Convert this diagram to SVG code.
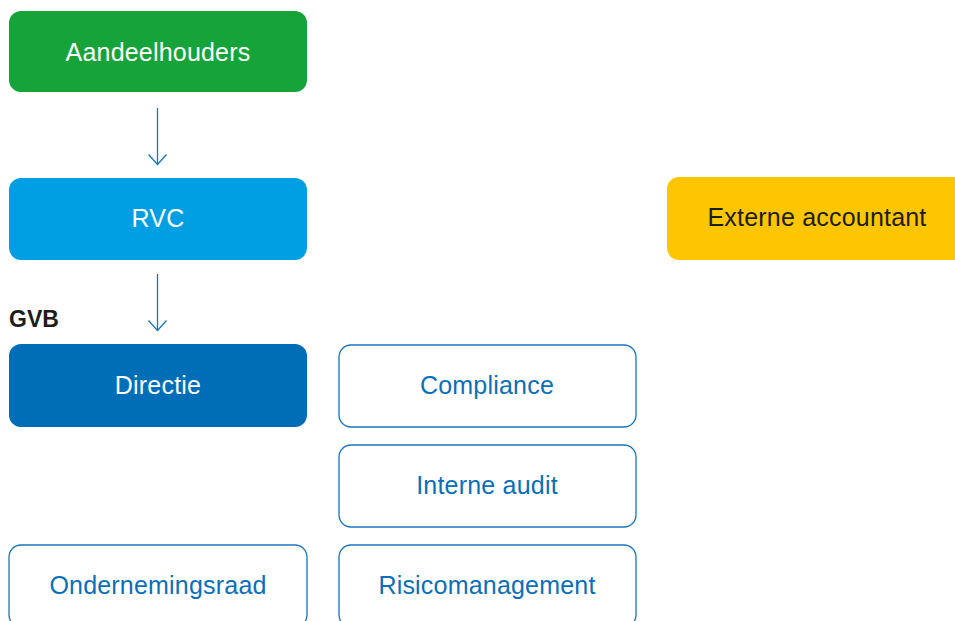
<svg xmlns="http://www.w3.org/2000/svg" width="955" height="621" viewBox="0 0 955 621">
<defs>
<style>
.lbl{font-family:"Liberation Sans",Arial,sans-serif;font-size:25px;letter-spacing:0.2px;text-anchor:middle}
.w{fill:#ffffff}
.b{fill:#0a6fb7}
.d{fill:#1d1d1b}
.out{fill:#ffffff;stroke:#1b75bb;stroke-width:1.3}
.conn{stroke:#1b75bb;stroke-width:1.3;fill:none}
</style>
</defs>
<rect width="955" height="621" fill="#ffffff"/>
<g id="connectors">
<line class="conn" x1="157.5" y1="108" x2="157.5" y2="165"/>
<path d="M148.5,154.5 L157.5,164.5 L166.5,154.5" class="conn"/>
<line class="conn" x1="157.5" y1="274" x2="157.5" y2="331"/>
<path d="M148.5,320.5 L157.5,330.5 L166.5,320.5" class="conn"/>
</g>
<g id="aandeelhouders">
<rect x="9" y="11" width="298" height="81" rx="12" fill="#16a43a"/>
<text class="lbl w" x="158" y="61">Aandeelhouders</text>
</g>
<g id="rvc">
<rect x="9" y="178" width="298" height="82" rx="12" fill="#009fe3"/>
<text class="lbl w" x="158" y="227">RVC</text>
</g>
<g id="externe-accountant">
<rect x="667" y="177" width="300" height="83" rx="12" fill="#fec600"/>
<text class="lbl d" x="817" y="226">Externe accountant</text>
</g>
<g id="gvb">
<text x="9" y="327" style="font-family:'Liberation Sans',Arial,sans-serif;font-size:23px;font-weight:bold" fill="#1d1d1b">GVB</text>
</g>
<g id="directie">
<rect x="9" y="344" width="298" height="83" rx="12" fill="#006eb7"/>
<text class="lbl w" x="158" y="394">Directie</text>
</g>
<g id="compliance">
<rect class="out" x="339" y="345" width="297" height="82" rx="12"/>
<text class="lbl b" x="487" y="394">Compliance</text>
</g>
<g id="interne-audit">
<rect class="out" x="339" y="445" width="297" height="82" rx="12"/>
<text class="lbl b" x="487" y="494">Interne audit</text>
</g>
<g id="ondernemingsraad">
<rect class="out" x="9" y="545" width="298" height="82" rx="12"/>
<text class="lbl b" x="158" y="594">Ondernemingsraad</text>
</g>
<g id="risicomanagement">
<rect class="out" x="339" y="545" width="297" height="82" rx="12"/>
<text class="lbl b" x="487" y="594">Risicomanagement</text>
</g>
</svg>
